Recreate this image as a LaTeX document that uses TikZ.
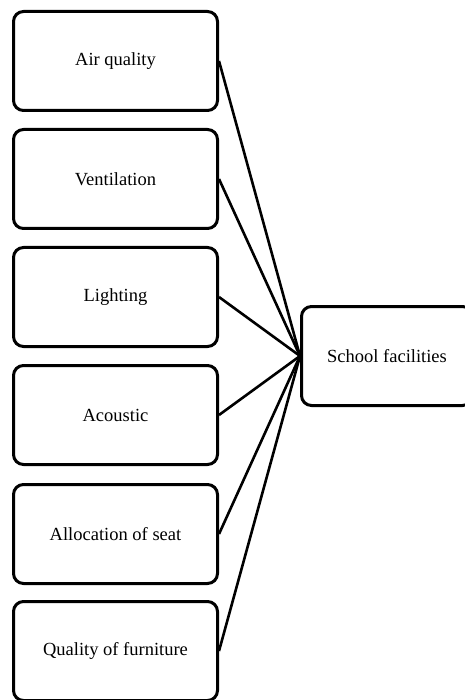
\documentclass[tikz,border=0pt]{standalone}
\usepackage{fontspec}
\setmainfont{Liberation Serif}
\begin{document}
\begin{tikzpicture}[x=1pt,y=-1pt,
  factor/.style={draw=black, line width=3pt, rounded corners=10pt, minimum width=204pt, minimum height=99pt, inner sep=0pt, font=\fontsize{18.5}{22}\selectfont, fill=white},
  target/.style={draw=black, line width=3pt, rounded corners=10pt, minimum width=171pt, minimum height=99pt, inner sep=0pt, font=\fontsize{18.5}{22}\selectfont, fill=white},
  link/.style={draw=black, line width=2.6pt}]
\useasboundingbox (0,0) rectangle (464,700);
\fill[white] (0,0) rectangle (464,700);
\node[factor] (b1) at (115.5,61) {Air quality};
\node[factor] (b2) at (115.5,179) {Ventilation};
\node[factor] (b3) at (115.5,297) {Lighting};
\node[factor] (b4) at (115.5,415) {Acoustic};
\node[factor] (b5) at (115.5,534) {Allocation of seat};
\node[factor] (b6) at (115.5,651) {Quality of furniture};
\node[target] (s) at (387,356) {School facilities};
\foreach \b in {b1,b2,b3,b4,b5,b6}
  \draw[link] (\b.east) -- (s.west);
\end{tikzpicture}
\end{document}
